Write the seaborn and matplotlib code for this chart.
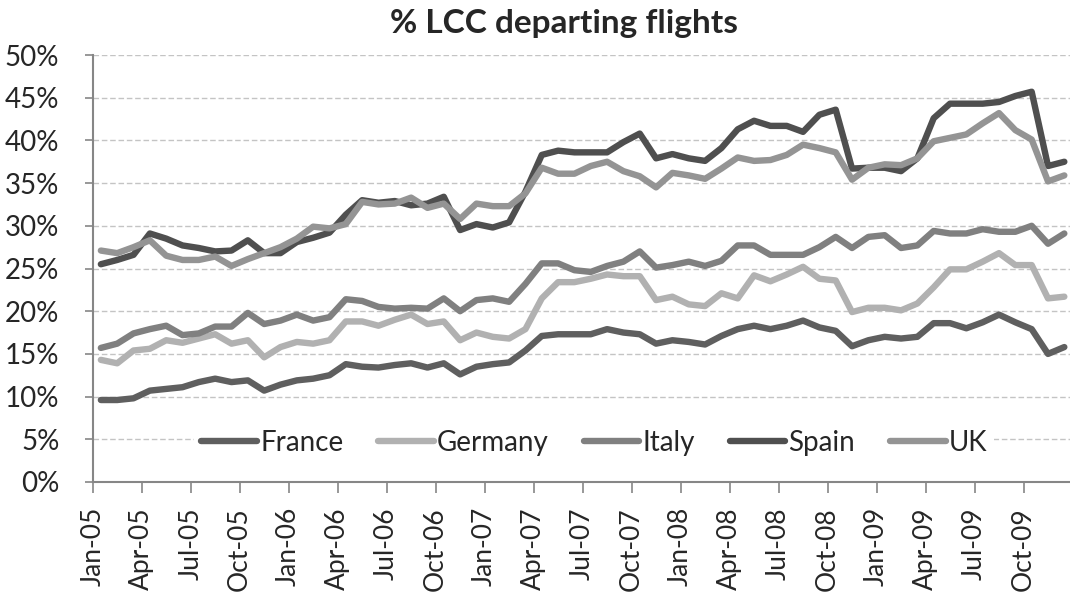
import matplotlib
matplotlib.use("Agg")
import numpy as np
import pandas as pd
import seaborn as sns
import matplotlib.pyplot as plt
from matplotlib.lines import Line2D
from matplotlib.ticker import FuncFormatter

# ---------------- data (percent of departing flights, monthly Jan-05 .. Dec-09) ----------------
countries = ["France", "Germany", "Italy", "Spain", "UK"]

france = [9.6, 9.6, 9.8, 10.7, 10.9, 11.1, 11.7, 12.1, 11.7, 11.9, 10.7, 11.4,
          11.9, 12.1, 12.5, 13.8, 13.5, 13.4, 13.7, 13.9, 13.4, 13.9, 12.6, 13.5,
          13.8, 14.0, 15.4, 17.1, 17.3, 17.3, 17.3, 17.9, 17.5, 17.3, 16.2, 16.6,
          16.4, 16.1, 17.1, 17.9, 18.3, 17.9, 18.3, 18.9, 18.1, 17.7, 15.9, 16.6,
          17.0, 16.8, 17.0, 18.6, 18.6, 18.0, 18.7, 19.6, 18.7, 17.9, 15.0, 15.8]

germany = [14.3, 13.9, 15.4, 15.6, 16.6, 16.3, 16.8, 17.3, 16.2, 16.6, 14.6, 15.8,
           16.4, 16.2, 16.6, 18.8, 18.8, 18.3, 19.0, 19.6, 18.5, 18.8, 16.6, 17.5,
           17.0, 16.8, 17.9, 21.5, 23.4, 23.4, 23.8, 24.3, 24.1, 24.1, 21.3, 21.7,
           20.8, 20.6, 22.1, 21.5, 24.2, 23.5, 24.3, 25.2, 23.8, 23.6, 19.9, 20.4,
           20.4, 20.1, 20.9, 22.8, 24.9, 24.9, 25.8, 26.8, 25.4, 25.4, 21.5, 21.7]

italy = [15.7, 16.2, 17.4, 17.9, 18.3, 17.2, 17.4, 18.2, 18.2, 19.8, 18.5, 18.9,
         19.6, 18.9, 19.3, 21.4, 21.2, 20.5, 20.3, 20.4, 20.3, 21.5, 20.0, 21.3,
         21.5, 21.1, 23.2, 25.6, 25.6, 24.8, 24.6, 25.3, 25.8, 27.0, 25.1, 25.4,
         25.8, 25.3, 25.9, 27.7, 27.7, 26.6, 26.6, 26.6, 27.5, 28.7, 27.4, 28.7,
         28.9, 27.4, 27.7, 29.4, 29.1, 29.1, 29.6, 29.3, 29.3, 30.0, 27.9, 29.1]

spain = [25.5, 26.0, 26.6, 29.1, 28.5, 27.7, 27.4, 27.0, 27.1, 28.3, 26.8, 26.8,
         28.1, 28.6, 29.2, 31.3, 33.0, 32.7, 32.9, 32.4, 32.6, 33.4, 29.5, 30.2,
         29.8, 30.4, 34.0, 38.3, 38.8, 38.6, 38.6, 38.6, 39.8, 40.8, 37.9, 38.4,
         37.9, 37.6, 39.1, 41.3, 42.3, 41.7, 41.7, 41.0, 43.0, 43.6, 36.7, 36.8,
         36.8, 36.4, 37.9, 42.6, 44.3, 44.3, 44.3, 44.5, 45.2, 45.7, 37.0, 37.5]

uk = [27.1, 26.8, 27.5, 28.3, 26.5, 26.0, 26.0, 26.4, 25.3, 26.1, 26.8, 27.5,
      28.5, 29.9, 29.7, 30.2, 32.8, 32.5, 32.6, 33.3, 32.1, 32.6, 30.8, 32.6,
      32.3, 32.3, 33.8, 36.8, 36.1, 36.1, 37.0, 37.5, 36.4, 35.8, 34.5, 36.2,
      35.9, 35.5, 36.7, 38.0, 37.6, 37.7, 38.3, 39.5, 39.1, 38.6, 35.4, 36.8,
      37.2, 37.1, 37.9, 39.9, 40.3, 40.7, 42.0, 43.2, 41.2, 40.1, 35.2, 35.9]

tick_labels = ["Jan-05", "Apr-05", "Jul-05", "Oct-05", "Jan-06", "Apr-06", "Jul-06",
               "Oct-06", "Jan-07", "Apr-07", "Jul-07", "Oct-07", "Jan-08", "Apr-08",
               "Jul-08", "Oct-08", "Jan-09", "Apr-09", "Jul-09", "Oct-09"]

colors = ["#5f5f5f", "#b1b1b1", "#808080", "#4f4f4f", "#949494"]

series = [france, germany, italy, spain, uk]
n = len(france)
df = pd.concat([pd.DataFrame({"month": np.arange(n), "value": s, "country": c})
                for c, s in zip(countries, series)], ignore_index=True)

# ---------------- style ----------------
sns.set_style("white")
plt.rcParams["font.family"] = ["Lato", "DejaVu Sans"]

W, H = 1070, 601
fig = plt.figure(figsize=(W / 100, H / 100), dpi=100)
ax = fig.add_axes([92.7 / W, 119 / H, 979.8 / W, 427 / H])

sns.lineplot(data=df, x="month", y="value", hue="country", hue_order=countries,
             palette=dict(zip(countries, colors)), linewidth=4.6, ax=ax,
             legend=False, sort=False, solid_capstyle="round", solid_joinstyle="round")

ax.set_xlim(-0.5, n - 0.5)
ax.set_ylim(0, 50)
ax.set_yticks(np.arange(0, 51, 5))
ax.yaxis.set_major_formatter(FuncFormatter(lambda v, p: f"{v:.0f}%"))
ax.set_xticks([-0.5 + 3 * i for i in range(len(tick_labels))])
ax.set_xticklabels(tick_labels, rotation=90)
ax.set_xlabel("")
ax.set_ylabel("")

ax.yaxis.grid(True, linestyle=(0, (4, 2)), color="#c4c4c4", linewidth=1.0)
ax.set_axisbelow(True)
for s in ["top", "right"]:
    ax.spines[s].set_visible(False)
for s in ["left", "bottom"]:
    ax.spines[s].set_color("#868686")
    ax.spines[s].set_linewidth(1.5)

ax.tick_params(axis="y", direction="out", length=6, width=1.2, color="#868686",
               labelsize=20, pad=18, left=True)
ax.tick_params(axis="x", direction="out", length=8, width=1.2, color="#868686",
               labelsize=19, pad=10, bottom=True)

handles = [Line2D([0], [0], color=c, lw=4.6, solid_capstyle="round") for c in colors]
leg = ax.legend(handles, countries, loc="center", bbox_to_anchor=(0.512, 0.092),
                ncol=5, frameon=True, facecolor="white", edgecolor="none",
                framealpha=1, fontsize=20, handlelength=2.0, handletextpad=0.12,
                columnspacing=1.25, borderpad=0.25, borderaxespad=0)

fig.text(564 / W, 1 - 24 / H, "% LCC departing flights", ha="center", va="center",
         fontsize=24, fontweight="bold")

fig.savefig("out.png", dpi=100)
